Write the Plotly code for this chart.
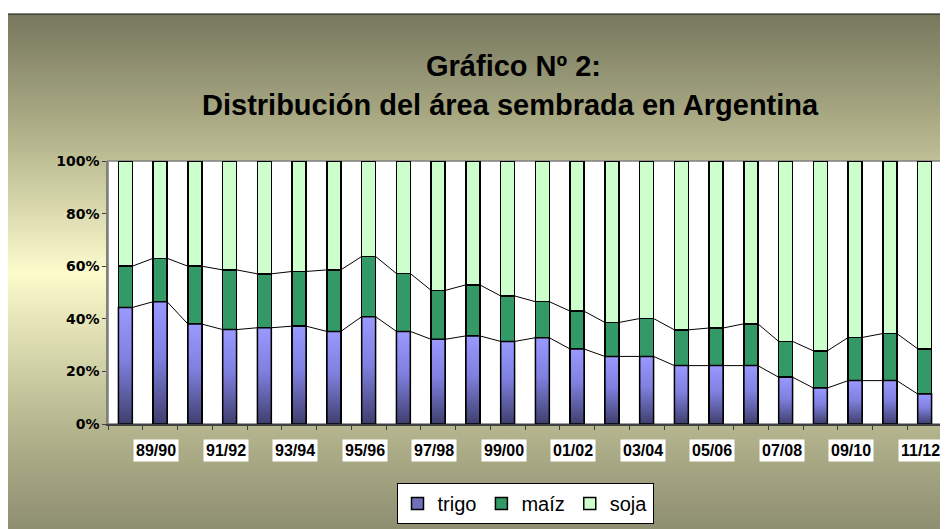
import urllib.parse
import plotly.graph_objects as go

categories = ["88/89", "89/90", "90/91", "91/92", "92/93", "93/94", "94/95", "95/96",
              "96/97", "97/98", "98/99", "99/00", "00/01", "01/02", "02/03", "03/04",
              "04/05", "05/06", "06/07", "07/08", "08/09", "09/10", "10/11", "11/12"]
trigo = [44.3, 46.5, 38.0, 35.9, 36.6, 37.2, 35.2, 40.8, 35.2, 32.2, 33.5, 31.4,
         32.8, 28.5, 25.7, 25.7, 22.2, 22.2, 22.2, 17.8, 13.7, 16.5, 16.5, 11.4]
maiz = [15.7, 16.5, 22.0, 22.7, 20.5, 20.8, 23.4, 22.9, 22.0, 18.6, 19.4, 17.3,
        13.7, 14.4, 12.9, 14.4, 13.6, 14.3, 15.9, 13.6, 14.1, 16.4, 17.9, 17.2]
soja = [40.0, 37.0, 40.0, 41.4, 42.9, 42.0, 41.4, 36.3, 42.8, 49.2, 47.1, 51.3,
        53.5, 57.1, 61.4, 59.9, 64.2, 63.5, 61.9, 68.6, 72.2, 67.1, 65.6, 71.4]
y_ticks = [0, 20, 40, 60, 80, 100]
y_tick_labels = ["0%", "20%", "40%", "60%", "80%", "100%"]
label_every = 2

# page body has an 8px margin; figure coordinates are reference coordinates minus 8
OFF = 8
W, H = 948 - OFF, 529 - OFF
ML = 108 - OFF
MT = 161 - OFF
MB = H - (425 - OFF)
MR = W - (942 - OFF)
PW, PH = W - ML - MR, H - MT - MB
BW = 0.4
FONT = "Liberation Sans, Arial, sans-serif"
NARROW = "Liberation Sans Narrow, Arial Narrow, Liberation Sans, Arial, sans-serif"


def px_x(px):
    return (px - OFF - ML) / PW


def px_y(py):
    return (H - MB - (py - OFF)) / PH


x = list(range(len(categories)))
fig = go.Figure()
line_style = dict(color="black", width=1.5)
fig.add_bar(x=x, y=trigo, name="trigo", width=BW, marker=dict(color="#7070b8", line=line_style))
fig.add_bar(x=x, y=maiz, name="maíz", width=BW, marker=dict(color="#339966", line=line_style))
fig.add_bar(x=x, y=soja, name="soja", width=BW, marker=dict(color="#ccffcc", line=line_style))

# gradient overlay for trigo bars
for i, t in enumerate(trigo):
    fig.add_scatter(
        x=[i - BW / 2, i + BW / 2, i + BW / 2, i - BW / 2, i - BW / 2],
        y=[0, 0, t, t, 0], mode="lines", fill="toself",
        fillgradient=dict(type="vertical", colorscale=[[0, "#3f3f6e"], [0.55, "#8080e0"], [1, "#9999ff"]]),
        line=dict(color="black", width=1.5), showlegend=False, hoverinfo="skip")

# series lines
cum1 = trigo
cum2 = [a + b for a, b in zip(trigo, maiz)]
for cum in (cum1, cum2):
    xs, ys = [], []
    for i in range(len(categories) - 1):
        xs += [i + BW / 2, i + 1 - BW / 2, None]
        ys += [cum[i], cum[i + 1], None]
    fig.add_scatter(x=xs, y=ys, mode="lines", line=dict(color="black", width=1),
                    showlegend=False, hoverinfo="skip")

# category labels with white boxes
for i, c in enumerate(categories):
    if i % label_every == 1:
        fig.add_annotation(x=i, y=0, xref="x", yref="y", text=c, showarrow=False,
                           xshift=-4, yanchor="top", yshift=-15, bgcolor="white", borderpad=2,
                           font=dict(family=NARROW, size=16, color="black", weight="bold"))

svg = ('<svg xmlns="http://www.w3.org/2000/svg" width="960" height="540" viewBox="0 0 960 540" preserveAspectRatio="none">'
       '<defs><linearGradient id="g" x1="0" y1="0" x2="0" y2="1">'
       '<stop offset="0" stop-color="#76775d"/><stop offset="0.22" stop-color="#b0b089"/>'
       '<stop offset="0.48" stop-color="#fcfbcc"/><stop offset="0.78" stop-color="#b2b28c"/>'
       '<stop offset="1" stop-color="#85866b"/></linearGradient></defs>'
       '<rect x="0" y="0" width="960" height="540" fill="url(#g)" stroke="#222" stroke-width="2"/></svg>')
src = "data:image/svg+xml;charset=utf-8," + urllib.parse.quote(svg)

fig.add_layout_image(source=src, xref="paper", yref="paper", x=px_x(7), y=px_y(13),
                     sizex=(W + 20) / PW, sizey=(H + 20) / PH,
                     xanchor="left", yanchor="top", sizing="stretch", layer="below")
fig.add_shape(type="rect", xref="paper", yref="paper", x0=0, x1=1, y0=0, y1=1,
              fillcolor="white", line=dict(color="#808080", width=1.5), layer="below")

fig.add_annotation(text="Gráfico Nº 2:", xref="paper", yref="paper", x=px_x(513), y=px_y(48),
                   showarrow=False, font=dict(family=FONT, size=29, color="black", weight="bold"))
fig.add_annotation(text="Distribución del área sembrada en Argentina", xref="paper", yref="paper",
                   x=px_x(510), y=px_y(87), showarrow=False,
                   font=dict(family=FONT, size=29, color="black", weight="bold"))

fig.update_layout(
    width=W, height=H, barmode="stack", bargap=0.6,
    margin=dict(l=ML, r=MR, t=MT, b=MB, pad=0),
    paper_bgcolor="white", plot_bgcolor="white",
    showlegend=True,
    legend=dict(orientation="h", x=0.5, xanchor="center", y=px_y(483), yanchor="top",
                bgcolor="white", bordercolor="black", borderwidth=1,
                font=dict(family=FONT, size=20, color="black"), traceorder="normal",
                itemwidth=30),
    xaxis=dict(range=[-0.5, len(categories) - 0.5], tickmode="array",
               tickvals=[i - 0.5 for i in range(len(categories) + 1)], showticklabels=False,
               ticks="outside", ticklen=4, tickcolor="#404040", showgrid=False, zeroline=False,
               showline=True, linecolor="#404040", linewidth=1.5, mirror=False),
    yaxis=dict(range=[0, 100], tickmode="array", tickvals=y_ticks, ticktext=y_tick_labels,
               ticks="outside", ticklen=4, tickcolor="#404040", showgrid=False, zeroline=False,
               showline=True, linecolor="#808080", linewidth=1.5,
               tickfont=dict(family="DejaVu Sans, Liberation Sans, sans-serif", size=14,
                             color="black", weight="bold")),
)

fig.write_html("out.html")
